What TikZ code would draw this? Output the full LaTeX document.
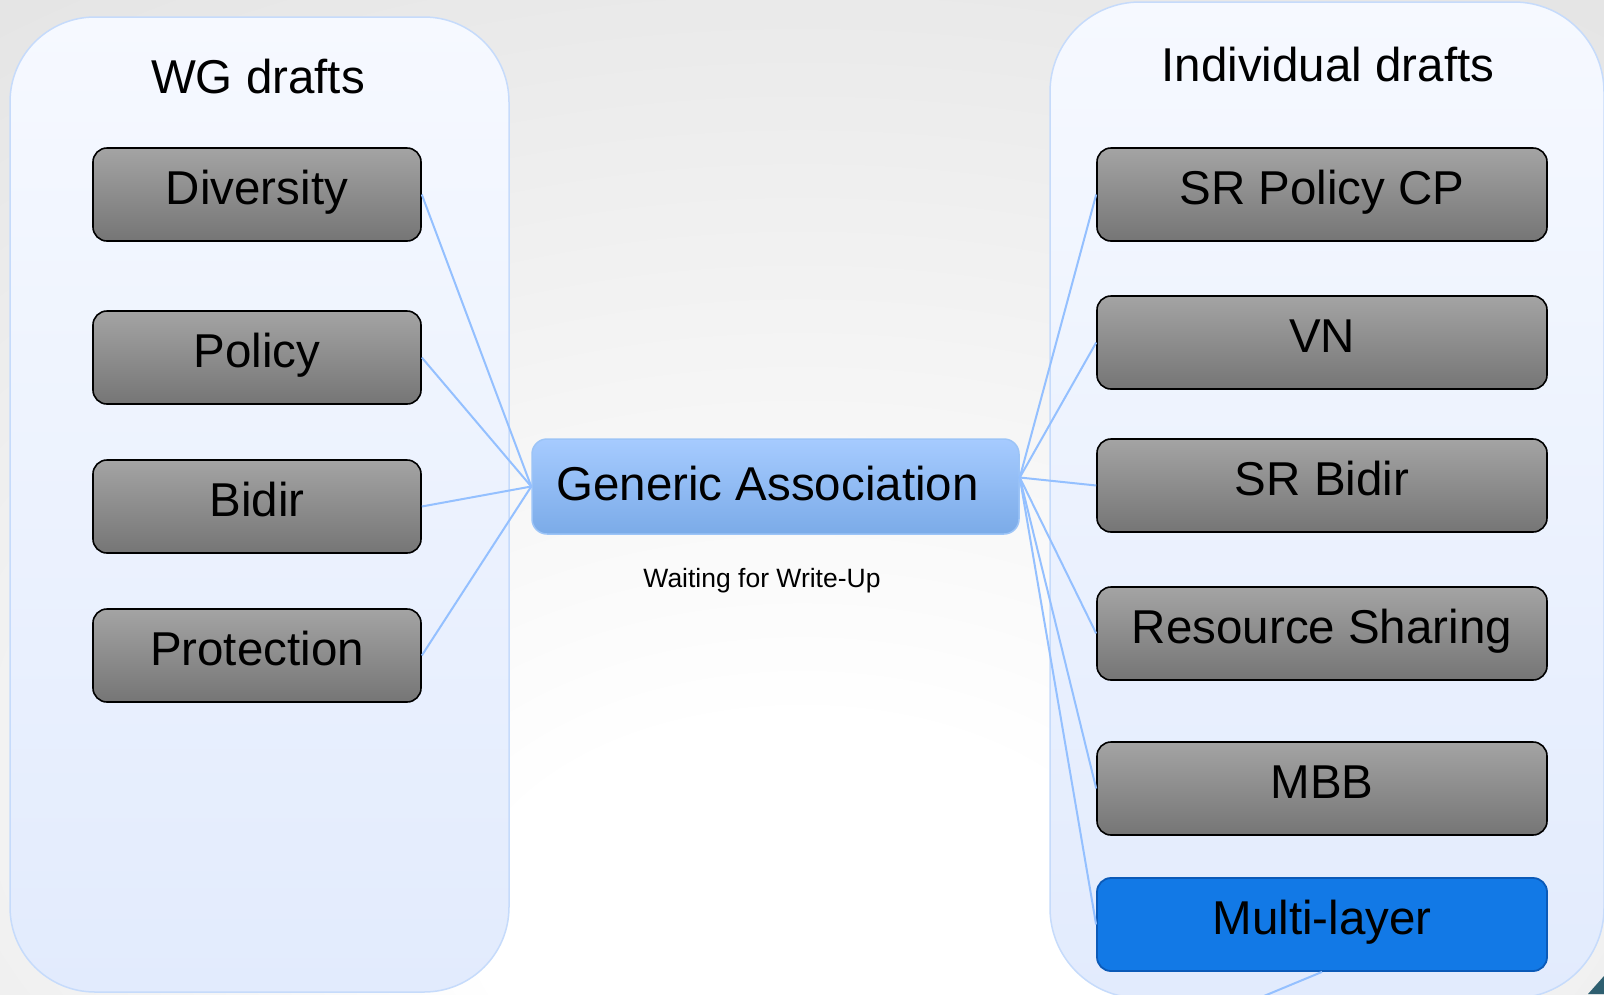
\documentclass[tikz,border=0pt]{standalone}
\usepackage{fontspec}
\setmainfont{Liberation Sans}
\definecolor{bggray}{HTML}{D8D8D8}
\definecolor{contTop}{HTML}{F6F9FF}
\definecolor{contBot}{HTML}{E2EBFD}
\definecolor{contLine}{HTML}{C6DBFB}
\definecolor{grayTop}{HTML}{A4A4A4}
\definecolor{grayBot}{HTML}{757575}
\definecolor{gaTop}{HTML}{A6CBFF}
\definecolor{gaBot}{HTML}{7BABE8}
\definecolor{gaLine}{HTML}{9CC4F7}
\definecolor{mlFill}{HTML}{1279E6}
\definecolor{mlLine}{HTML}{0B5AB8}
\definecolor{linkBlue}{HTML}{94C0FF}
\definecolor{swirl}{HTML}{2E5F70}
\pgfdeclareradialshading{bgshade}{\pgfpoint{0bp}{-26bp}}{color(0bp)=(white); color(10bp)=(white); color(55bp)=(bggray)}
\begin{document}
\begin{tikzpicture}[x=1pt,y=-1pt,
  container/.style={draw=contLine, line width=1.5pt, top color=contTop, bottom color=contBot},
  boxbase/.style={inner sep=0pt, text height=34pt, text depth=15pt, minimum height=93pt,
    rounded corners=14pt, font=\fontsize{47.5}{57}\selectfont},
  draftbox/.style={boxbase, draw=black, line width=1.6pt, top color=grayTop, bottom color=grayBot},
  leftbox/.style={draftbox, minimum width=328pt},
  rightbox/.style={draftbox, minimum width=450pt},
  mlbox/.style={boxbase, draw=mlLine, line width=1.8pt, fill=mlFill, minimum width=450pt},
  gabox/.style={inner sep=0pt, draw=gaLine, line width=1.5pt, rounded corners=15pt,
    top color=gaTop, bottom color=gaBot, minimum width=487pt, minimum height=95pt,
    text height=34pt, text depth=7pt, font=\fontsize{47.5}{57}\selectfont},
  title/.style={anchor=base, font=\fontsize{47.5}{57}\selectfont},
  note/.style={anchor=base, font=\fontsize{26.5}{32}\selectfont},
  link/.style={draw=linkBlue, line width=2pt},
]
\clip (0,0) rectangle (1604,994);
\shade[shading=bgshade] (0,0) rectangle (1604,994);
% corner fragment
\fill[swirl] (1588,994) -- (1604,976) -- (1604,994) -- cycle;
% containers
\path[container, rounded corners=85pt] (10,17) rectangle (509,992);
\path[container, rounded corners=90pt] (1050,2) rectangle (1604,998);
% titles
\node[title] (wgt) at (258,93) {WG drafts};
\node[title] (idt) at (1328,81) {Individual drafts};
% WG drafts
\node[leftbox] (div) at (257,194.5) {Diversity};
\node[leftbox] (pol) at (257,357.5) {Policy};
\node[leftbox] (bid) at (257,506.5) {Bidir};
\node[leftbox] (pro) at (257,655.5) {Protection};
% individual drafts
\node[rightbox] (srp) at (1322,194.5) {SR Policy CP};
\node[rightbox] (vn)  at (1322,342.5) {VN};
\node[rightbox] (srb) at (1322,485.5) {SR Bidir};
\node[rightbox] (rs)  at (1322,633.5) {Resource Sharing};
\node[rightbox] (mbb) at (1322,788.5) {MBB};
\node[mlbox]    (ml)  at (1322,924.5) {Multi-layer};
% centre
\node[gabox] (ga) at (775.5,486.5) {Generic Association\rule{16pt}{0pt}};
\node[note] (wait) at (762,587) {Waiting for Write-Up};
% connectors
\coordinate (gar) at ([yshift=9pt]ga.east);
\draw[link] (div.east) -- (ga.west);
\draw[link] (pol.east) -- (ga.west);
\draw[link] (bid.east) -- (ga.west);
\draw[link] (pro.east) -- (ga.west);
\draw[link] (gar) -- (srp.west);
\draw[link] (gar) -- (vn.west);
\draw[link] (gar) -- (srb.west);
\draw[link] (gar) -- (rs.west);
\draw[link] (gar) -- (mbb.west);
\draw[link] (gar) -- (ml.west);
\coordinate (offml) at (1235,1008);
\draw[link] (ml.south) -- (offml);
\end{tikzpicture}
\end{document}
